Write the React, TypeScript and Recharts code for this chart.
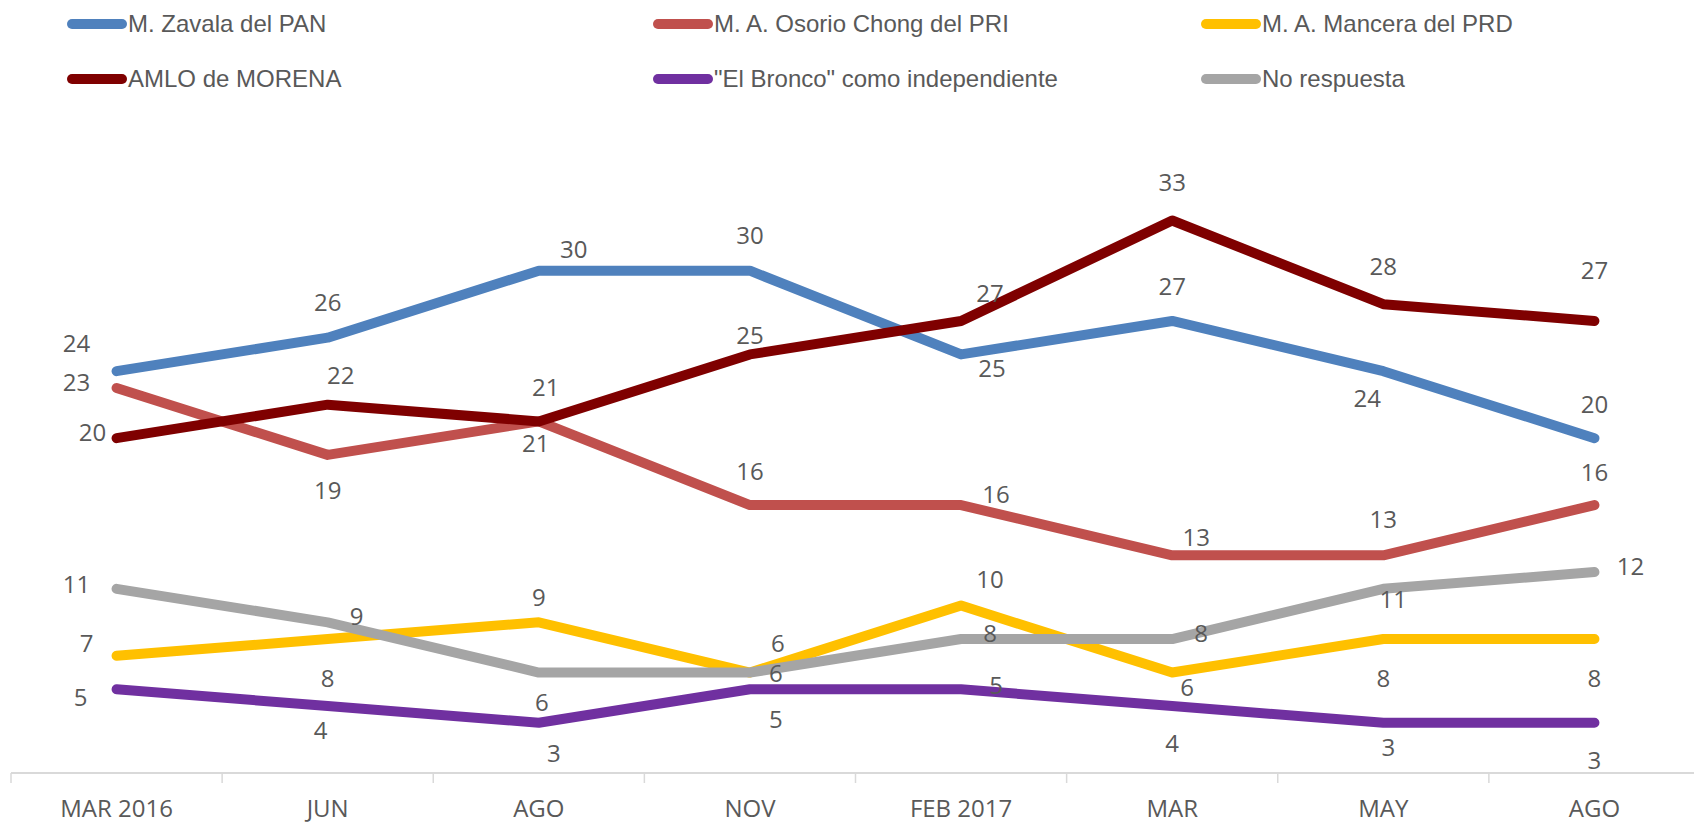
import { LineChart, Line, XAxis, YAxis, LabelList } from 'recharts';

const categories = ['MAR 2016', 'JUN', 'AGO', 'NOV', 'FEB 2017', 'MAR', 'MAY', 'AGO'];

const zavala = [24, 26, 30, 30, 25, 27, 24, 20];
const osorio = [23, 19, 21, 16, 16, 13, 13, 16];
const mancera = [7, 8, 9, 6, 10, 6, 8, 8];
const amlo = [20, 22, 21, 25, 27, 33, 28, 27];
const bronco = [5, 4, 3, 5, 5, 4, 3, 3];
const noResp = [11, 9, 6, 6, 8, 8, 11, 12];

// where each data label sits relative to its point (dx, dy), as placed in the original
const zavalaLbl = [[-40, -29], [0, -36], [35, -22], [0, -36], [31, 13], [0, -35], [-16, 26], [0, -35]];
const osorioLbl = [[-40, -6], [0, 35], [-3, 21], [0, -35], [35, -12], [24, -19], [0, -37], [0, -34]];
const manceraLbl = [[-30, -13], [0, 38], [0, -26], [28, -30], [29, -27], [15, 14], [0, 38], [0, 38]];
const amloLbl = [[-24, -7], [13, -30], [7, -35], [0, -20], [29, -28], [0, -39], [0, -39], [0, -51]];
const broncoLbl = [[-36, 7], [-7, 23], [15, 30], [26, 29], [35, -5], [0, 36], [5, 24], [0, 37]];
const noRespLbl = [[-40, -5], [29, -7], [3, 29], [26, 0], [29, -7], [29, -7], [10, 10], [36, -7]];

const series = [
  { key: 'zavala', name: 'M. Zavala del PAN', color: '#4F81BD', values: zavala, lbl: zavalaLbl },
  { key: 'osorio', name: 'M. A. Osorio Chong del PRI', color: '#C0504D', values: osorio, lbl: osorioLbl },
  { key: 'mancera', name: 'M. A. Mancera del PRD', color: '#FFC000', values: mancera, lbl: manceraLbl },
  { key: 'amlo', name: 'AMLO de MORENA', color: '#7F0000', values: amlo, lbl: amloLbl },
  { key: 'bronco', name: '"El Bronco" como independiente', color: '#7030A0', values: bronco, lbl: broncoLbl },
  { key: 'noResp', name: 'No respuesta', color: '#A5A5A5', values: noResp, lbl: noRespLbl },
];

const data = categories.map((c, i) => {
  const row: any = { label: c };
  series.forEach(s => { row[s.key] = s.values[i]; });
  return row;
});

const W = 1700;
const H = 824;
const LEFT = 11;
const BAND = (W - LEFT) / categories.length;
const TEXT = '#595959';

const legendCols = [67, 653, 1201];
const legendRows = [24, 79];

function CategoryTick(props: any) {
  const { x, y, payload, index } = props;
  const left = x - BAND / 2;
  return (
    <g>
      <line x1={left} y1={y} x2={left} y2={y + 10} stroke="#D9D9D9" strokeWidth={1.5} />
      {index === categories.length - 1 && (
        <line x1={x + BAND / 2} y1={y} x2={x + BAND / 2} y2={y + 10} stroke="#D9D9D9" strokeWidth={1.5} />
      )}
      <text x={x} y={y + 44} textAnchor="middle"
        fontFamily="Open Sans" fontSize={24} fill={TEXT}>
        {payload.value}
      </text>
    </g>
  );
}

function makeLabel(offsets: number[][]) {
  return (props: any) => {
    const { x, y, value, index } = props;
    const [dx, dy] = offsets[index] || [0, -30];
    return (
      <text x={x + dx} y={y + dy} textAnchor="middle" dominantBaseline="central"
        fontFamily="Open Sans" fontSize={24} fill={TEXT}>
        {value}
      </text>
    );
  };
}

export default function App() {
  return (
    <div style={{ position: 'absolute', left: 0, top: 0, width: 1694, height: 824, overflow: 'hidden', background: '#fff' }}>
      {series.map((s, i) => (
        <div key={s.key} style={{
          position: 'absolute',
          left: legendCols[i % 3],
          top: legendRows[Math.floor(i / 3)] - 15,
          height: 30,
          display: 'flex',
          alignItems: 'center',
          whiteSpace: 'nowrap',
          fontFamily: 'Liberation Sans',
          fontSize: 24,
          color: TEXT,
        }}>
          <span style={{ display: 'inline-block', width: 60, height: 10, borderRadius: 5, background: s.color, marginRight: 1 }} />
          <span>{s.name}</span>
        </div>
      ))}
      <div style={{ position: 'absolute', left: 0, top: 0 }}>
        <LineChart width={W} height={H} data={data} margin={{ top: 187, right: 0, left: LEFT, bottom: 0 }}>
          <XAxis dataKey="label" height={51} interval={0} tickLine={false} tickSize={0} tickMargin={0}
            padding={{ left: BAND / 2, right: BAND / 2 }}
            axisLine={{ stroke: '#D9D9D9', strokeWidth: 2 }} tick={<CategoryTick />} />
          <YAxis hide domain={[0, 35]} />
          {series.map(s => (
            <Line key={s.key} type="linear" dataKey={s.key} name={s.name} stroke={s.color} strokeWidth={10}
              strokeLinecap="round" strokeLinejoin="round" dot={false} activeDot={false} isAnimationActive={false}>
              <LabelList dataKey={s.key} content={makeLabel(s.lbl)} />
            </Line>
          ))}
        </LineChart>
      </div>
    </div>
  );
}
